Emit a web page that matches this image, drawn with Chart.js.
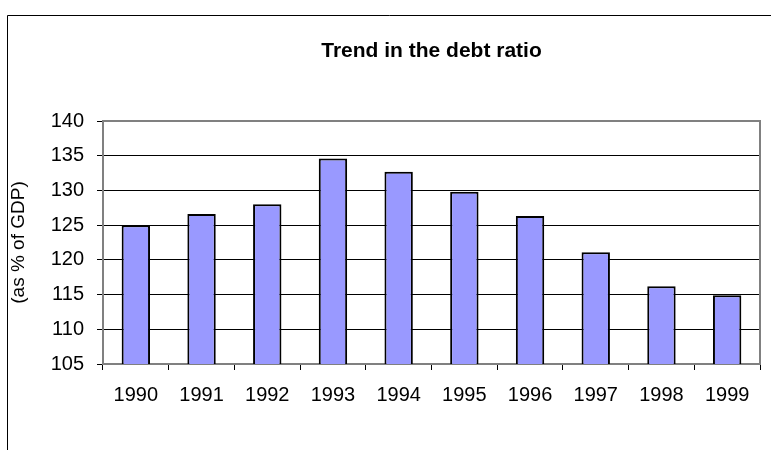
<!DOCTYPE html>
<html>
<head>
<meta charset="utf-8">
<script src="https://cdn.jsdelivr.net/npm/chart.js@4"></script>
<style>
  html, body { margin: 0; padding: 0; background: #ffffff; }
  #wrap { position: relative; width: 771px; height: 450px; }
</style>
</head>
<body>
<div id="wrap"><canvas id="c" width="771" height="450"></canvas></div>
<script>
const years = ['1990', '1991', '1992', '1993', '1994', '1995', '1996', '1997', '1998', '1999'];
const debtRatio = [125.0, 126.6, 128.0, 134.6, 132.7, 129.8, 126.3, 121.1, 116.2, 114.9];
const chartTitle = 'Trend in the debt ratio';
const yAxisTitle = '(as % of GDP)';
const yMin = 105, yMax = 140, yStep = 5;

const FONT = '"Liberation Sans", Arial, Helvetica, sans-serif';

const framePlugin = {
  id: 'frame',
  beforeDraw(chart) {
    const ctx = chart.ctx;
    ctx.save();
    ctx.fillStyle = '#ffffff';
    ctx.fillRect(0, 0, chart.width, chart.height);
    ctx.strokeStyle = '#000000';
    ctx.lineWidth = 1;
    ctx.beginPath();
    ctx.moveTo(7.5, chart.height);
    ctx.lineTo(7.5, 15.5);
    ctx.lineTo(chart.width, 15.5);
    ctx.stroke();
    ctx.restore();
  },
  beforeDatasetsDraw(chart) {
    const a = chart.chartArea;
    const ctx = chart.ctx;
    ctx.save();
    ctx.strokeStyle = '#808080';
    ctx.lineWidth = 2;
    ctx.strokeRect(a.left, a.top, a.right - a.left, a.bottom - a.top);
    ctx.restore();
  }
};

new Chart(document.getElementById('c'), {
  type: 'bar',
  data: {
    labels: years,
    datasets: [{
      data: debtRatio,
      backgroundColor: '#9999FF',
      borderColor: '#000000',
      borderWidth: 2,
      borderSkipped: false,
      categoryPercentage: 1,
      barPercentage: 0.432
    }]
  },
  options: {
    responsive: false,
    animation: false,
    layout: { padding: { left: 0, right: 11, top: 0, bottom: 0 } },
    plugins: {
      legend: { display: false },
      tooltip: { enabled: false },
      title: {
        display: true,
        text: chartTitle,
        fullSize: false,
        color: '#000000',
        font: { family: FONT, size: 21, weight: 'bold', lineHeight: 1.2 },
        padding: { top: 39, bottom: 56.8 }
      }
    },
    scales: {
      x: {
        offset: true,
        grid: { display: true, drawOnChartArea: false, offset: true, tickLength: 6, color: '#000000', lineWidth: 1 },
        border: { display: true, color: '#808080', width: 1 },
        ticks: { color: '#000000', font: { family: FONT, size: 20, lineHeight: 1.2 }, padding: 13, maxRotation: 0, autoSkip: false },
        afterFit(scale) { scale.height = 86; }
      },
      y: {
        min: yMin,
        max: yMax,
        grid: { color: '#000000', lineWidth: 1, tickLength: 6 },
        border: { display: true, color: '#808080', width: 1 },
        ticks: { stepSize: yStep, color: '#000000', font: { family: FONT, size: 20, lineHeight: 1.2 }, padding: 13 },
        title: {
          display: true,
          text: yAxisTitle,
          color: '#000000',
          font: { family: FONT, size: 19, lineHeight: 1.2 },
          padding: { top: 7, bottom: 0 }
        },
        afterFit(scale) { scale.width = 103; }
      }
    }
  },
  plugins: [framePlugin]
});
</script>
</body>
</html>
